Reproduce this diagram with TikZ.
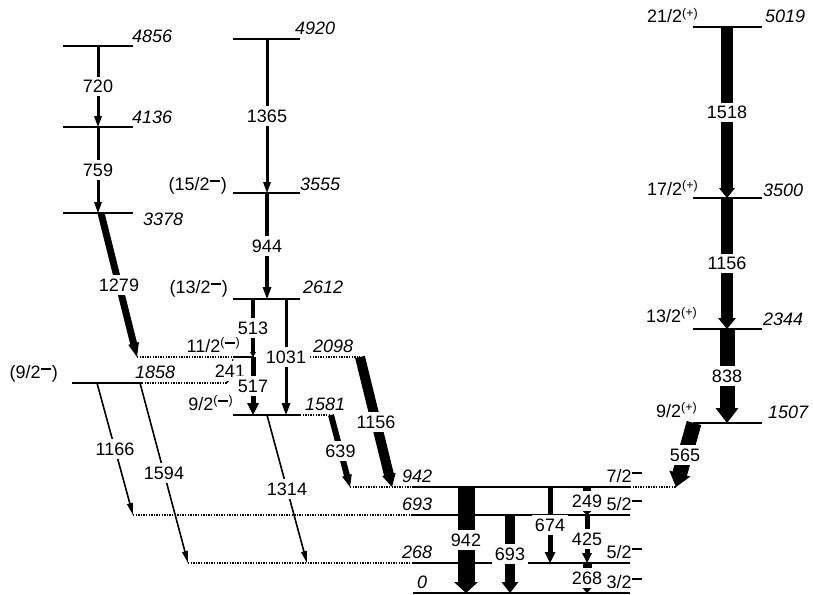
\documentclass[tikz,border=0pt]{standalone}
\usepackage{fontspec}
\setmainfont{Liberation Sans}
\usetikzlibrary{calc}
\newcommand{\spinsup}[1]{\raisebox{5.5pt}{\fontsize{12.5}{12}\selectfont #1}}
\newcommand{\mns}{\kern0.6pt\rule[2.8pt]{10pt}{1.3pt}\kern0.6pt}
% gamma transition: start, end, shaft width, head width, head length, label
\newcommand{\gam}[6]{%
  \coordinate (gh) at ($(#2)!#5!(#1)$);
  \draw[line width=#3] (#1) -- ($(#2)!#5-0.4pt!(#1)$);
  \fill (#2) -- ($(gh)!#4/2!90:(#2)$) -- ($(gh)!#4/2!-90:(#2)$) -- cycle;
  \path (#1) -- (#2) node[midway,glab] {#6};
}
\begin{document}
\begin{tikzpicture}[x=1pt,y=-1pt,
  lvl/.style={line width=1.2pt},
  dlvl/.style={line width=1.2pt,dash pattern=on 1.3pt off 1.3pt},
  every node/.style={font=\fontsize{18}{21}\selectfont},
  glab/.style={fill=white,inner xsep=2.5pt,inner ysep=3.5pt},
  en/.style={inner sep=0pt,font=\fontsize{18}{21}\selectfont\itshape},
  sp/.style={inner sep=0pt}]
\useasboundingbox (0,0) rectangle (813,594);

% ---------------- levels ----------------
% column A
\draw[lvl] (63,46) coordinate (l4856w) -- (133,46) coordinate (l4856e);
\draw[lvl] (63,127) coordinate (l4136w) -- (133,127) coordinate (l4136e);
\draw[lvl] (63,213) coordinate (l3378w) -- (133,213) coordinate (l3378e);
% column B
\draw[lvl] (233,39) coordinate (l4920w) -- (300,39) coordinate (l4920e);
\draw[lvl] (233,193) coordinate (l3555w) -- (300,193) coordinate (l3555e);
\draw[lvl] (233,299) coordinate (l2612w) -- (300,299) coordinate (l2612e);
\draw[lvl] (233,415) coordinate (l1581w) -- (300,415) coordinate (l1581e);
\draw[dlvl] (l1581e) -- (330,415) coordinate (l1581d);
% 2098 level
\draw[dlvl] (137,357) coordinate (l2098a) -- (233,357) coordinate (l2098b);
\draw[lvl] (l2098b) -- (254,357) coordinate (l2098c);
\draw[dlvl] (310,357) coordinate (l2098d) -- (360,357) coordinate (l2098e);
% 1858 level
\draw[lvl] (72,383) coordinate (l1858w) -- (142,383) coordinate (l1858e);
\draw[dlvl] (l1858e) -- (227,383) coordinate (l1858d);
% bottom levels
\draw[dlvl] (350,487) coordinate (l942a) -- (413,487) coordinate (l942w);
\draw[lvl] (l942w) -- (630,487) coordinate (l942e);
\draw[dlvl] (l942e) -- (676,487) coordinate (l942b);
\draw[dlvl] (133,515) coordinate (l693a) -- (413,515) coordinate (l693w);
\draw[lvl] (l693w) -- (630,515) coordinate (l693e);
\draw[dlvl] (188,563) coordinate (l268a) -- (413,563) coordinate (l268w);
\draw[lvl] (l268w) -- (630,563) coordinate (l268e);
\draw[lvl] (413,593) coordinate (l0w) -- (630,593) coordinate (l0e);
% column C
\draw[lvl] (693,27) coordinate (l5019w) -- (762,27) coordinate (l5019e);
\draw[lvl] (693,198) coordinate (l3500w) -- (762,198) coordinate (l3500e);
\draw[lvl] (693,329) coordinate (l2344w) -- (762,329) coordinate (l2344e);
\draw[lvl] (693,423) coordinate (l1507w) -- (762,423) coordinate (l1507e);

% ---------------- transition end points ----------------
\coordinate (g720a) at (98,46);   \coordinate (g720b) at (98,127);
\coordinate (g759a) at (98,127);  \coordinate (g759b) at (98,213);
\coordinate (g1279a) at (101,213); \coordinate (g1279b) at (137,357);
\coordinate (g1365a) at (267,39); \coordinate (g1365b) at (267,193);
\coordinate (g944a) at (267,193); \coordinate (g944b) at (267,299);
\coordinate (g513a) at (253,299); \coordinate (g513b) at (253,357);
\coordinate (g517a) at (253,357); \coordinate (g517b) at (253,415);
\coordinate (g1031a) at (286,299); \coordinate (g1031b) at (286,415);
\coordinate (g241a) at (233,359); \coordinate (g241b) at (227,383);
\coordinate (g1156a) at (360,357); \coordinate (g1156b) at (392,487);
\coordinate (g639a) at (331,415); \coordinate (g639b) at (350,487);
\coordinate (g1314a) at (267,415); \coordinate (g1314b) at (307,563);
\coordinate (g1166a) at (97,383); \coordinate (g1166b) at (133,515);
\coordinate (g1594a) at (140,383); \coordinate (g1594b) at (188,563);
\coordinate (g942a) at (466,487); \coordinate (g942b) at (466,593);
\coordinate (g693a) at (510,515); \coordinate (g693b) at (510,593);
\coordinate (g674a) at (550,487); \coordinate (g674b) at (550,563);
\coordinate (g249a) at (587,487); \coordinate (g249b) at (587,515);
\coordinate (g425a) at (587,515); \coordinate (g425b) at (587,563);
\coordinate (g268a) at (587,563); \coordinate (g268b) at (587,593);
\coordinate (g1518a) at (727,27); \coordinate (g1518b) at (727,198);
\coordinate (g1156ra) at (727,198); \coordinate (g1156rb) at (727,329);
\coordinate (g838a) at (727,329); \coordinate (g838b) at (727,423);
\coordinate (g565a) at (694,423); \coordinate (g565b) at (676,487);

% ---------------- transitions ----------------
\gam{g720a}{g720b}{3pt}{8pt}{11pt}{720}
\gam{g759a}{g759b}{3pt}{8pt}{11pt}{759}
\gam{g1279a}{g1279b}{7pt}{11pt}{14pt}{1279}
\gam{g1365a}{g1365b}{3pt}{8pt}{11pt}{1365}
\gam{g944a}{g944b}{3.5pt}{9pt}{12pt}{944}
\gam{g241a}{g241b}{1.2pt}{5pt}{4pt}{241}
\gam{g513a}{g513b}{4pt}{6pt}{5pt}{513}
\gam{g517a}{g517b}{5pt}{12pt}{12pt}{517}
\gam{g1031a}{g1031b}{3pt}{9pt}{12pt}{1031}
\gam{g1156a}{g1156b}{10pt}{14pt}{13pt}{1156}
\gam{g639a}{g639b}{6pt}{10pt}{12pt}{639}
\gam{g1314a}{g1314b}{1.6pt}{6pt}{12pt}{1314}
\gam{g1166a}{g1166b}{1.6pt}{6pt}{12pt}{1166}
\gam{g1594a}{g1594b}{1.6pt}{6pt}{12pt}{1594}
\gam{g942a}{g942b}{17pt}{24pt}{11pt}{942}
\gam{g693a}{g693b}{10pt}{17pt}{11pt}{693}
\gam{g674a}{g674b}{5pt}{11pt}{11pt}{674}
\gam{g249a}{g249b}{8pt}{9pt}{4pt}{249}
\gam{g425a}{g425b}{5pt}{10pt}{10pt}{425}
\gam{g268a}{g268b}{9pt}{11pt}{6pt}{268}
\gam{g1518a}{g1518b}{12pt}{16pt}{10pt}{1518}
\gam{g1156ra}{g1156rb}{12pt}{18pt}{11pt}{1156}
\gam{g838a}{g838b}{15pt}{23pt}{15pt}{838}
\gam{g565a}{g565b}{15pt}{22pt}{14pt}{565}

% ---------------- energy labels ----------------
\node[en,anchor=base west] (e4856) at (132,42) {4856};
\node[en,anchor=base west] (e4136) at (132,123) {4136};
\node[en,anchor=base west] (e3378) at (143,225) {3378};
\node[en,anchor=base west] (e4920) at (295,35) {4920};
\node[en,anchor=base west] (e3555) at (300,190) {3555};
\node[en,anchor=base west] (e2612) at (303,293) {2612};
\node[en,anchor=base west] (e1581) at (305,410) {1581};
\node[en,anchor=base west] (e2098) at (313,352) {2098};
\node[en,anchor=base west] (e1858) at (135,378) {1858};
\node[en,anchor=base west] (e942) at (402,482) {942};
\node[en,anchor=base west] (e693) at (402,510) {693};
\node[en,anchor=base west] (e268) at (402,558) {268};
\node[en,anchor=base west] (e0) at (417,588) {0};
\node[en,anchor=base west] (e5019) at (765,23) {5019};
\node[en,anchor=base west] (e3500) at (763,196) {3500};
\node[en,anchor=base west] (e2344) at (763,325) {2344};
\node[en,anchor=base west] (e1507) at (768,418) {1507};

% ---------------- spin labels ----------------
\node[sp,anchor=base east] (s1858) at (58,378) {(9/2\spinsup{\mns})};
\node[sp,anchor=base east] (s2098) at (240,352) {11/2\spinsup{(\mns)}};
\node[sp,anchor=base east] (s1581) at (233,410) {9/2\spinsup{(\mns)}};
\node[sp,anchor=base east] (s2612) at (228,293) {(13/2\spinsup{\mns})};
\node[sp,anchor=base east] (s3555) at (227,190) {(15/2\spinsup{\mns})};
\node[sp,anchor=base east] (s942) at (643,482) {7/2\spinsup{\mns}};
\node[sp,anchor=base east] (s693) at (643,510) {5/2\spinsup{\mns}};
\node[sp,anchor=base east] (s268) at (643,558) {5/2\spinsup{\mns}};
\node[sp,anchor=base east] (s0) at (643,588) {3/2\spinsup{\mns}};
\node[sp,anchor=base east] (s5019) at (698,23) {21/2\spinsup{(+)}};
\node[sp,anchor=base east] (s3500) at (698,195) {17/2\spinsup{(+)}};
\node[sp,anchor=base east] (s2344) at (697,322) {13/2\spinsup{(+)}};
\node[sp,anchor=base east] (s1507) at (697,417) {9/2\spinsup{(+)}};
\end{tikzpicture}
\end{document}
